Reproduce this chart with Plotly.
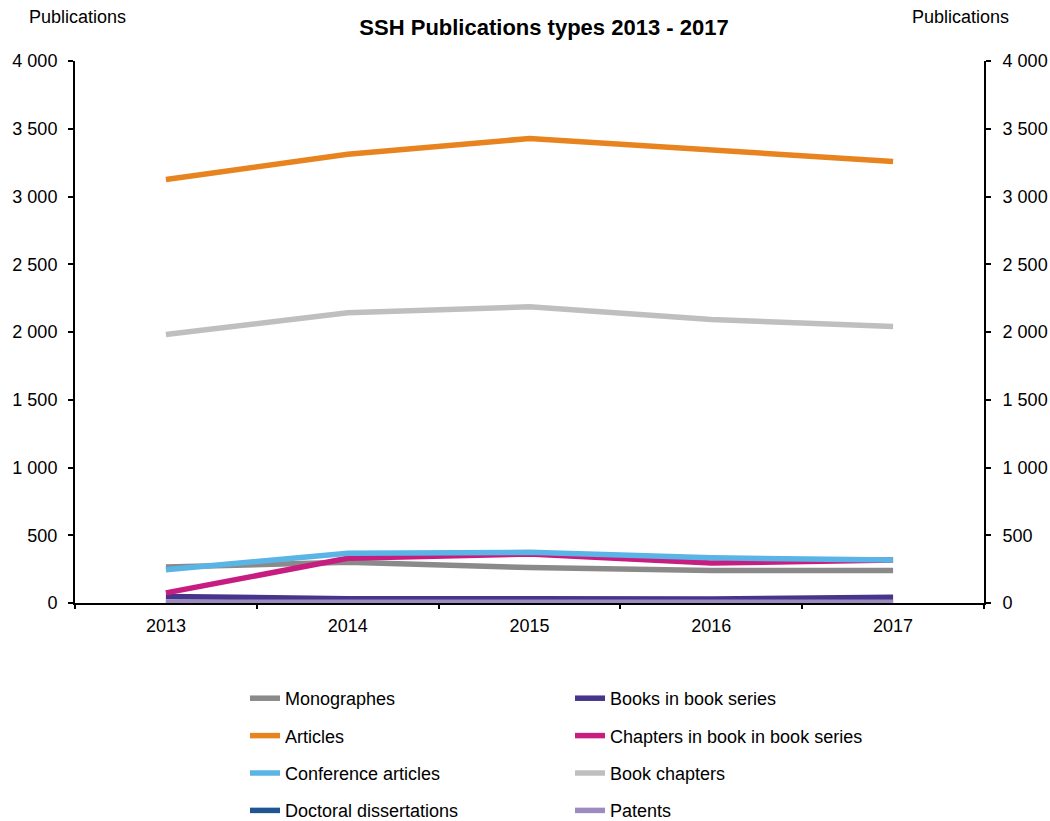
import plotly.graph_objects as go

years = ["2013", "2014", "2015", "2016", "2017"]
monographes = [265, 300, 262, 240, 240]
books_series = [48, 32, 32, 30, 42]
articles = [3125, 3312, 3428, 3342, 3258]
chapters_series = [75, 330, 362, 295, 318]
conference = [245, 367, 374, 334, 317]
book_chapters = [1982, 2142, 2186, 2092, 2040]
doctoral = [3, 3, 3, 3, 3]
patents = [5, 5, 5, 5, 5]

left_col = [
    ("Monographes", monographes, "#8a8a8a"),
    ("Articles", articles, "#e8841f"),
    ("Conference articles", conference, "#5ab4e6"),
    ("Doctoral dissertations", doctoral, "#1f5592"),
]
right_col = [
    ("Books in book series", books_series, "#46358b"),
    ("Chapters in book in book series", chapters_series, "#c71d81"),
    ("Book chapters", book_chapters, "#bfbfbf"),
    ("Patents", patents, "#9d8bc0"),
]
left_names = [n for n, _, _ in left_col]

fig = go.Figure()
order = [left_col[0], right_col[0], left_col[1], right_col[1],
         left_col[2], right_col[2], left_col[3], right_col[3]]
for name, vals, col in order:
    leg = "legend" if name in left_names else "legend2"
    fig.add_trace(go.Scatter(
        x=years, y=vals, name=name, mode="lines",
        line=dict(color=col, width=5.5),
        legend=leg, legendgroup=name,
    ))

font_family = "Liberation Sans, Arial, sans-serif"
tick_vals = list(range(0, 4001, 500))
W, H = 1050, 821
L, R, T, B = 75, 66, 61, 218
PW, PH = W - L - R, H - T - B

def px_x(p):
    return (p - L) / PW

def px_y(p):
    return (H - B - p) / PH

axis_common = dict(
    ticks="outside", tickwidth=1.5, tickcolor="black",
    showline=True, linecolor="black", linewidth=2,
    showgrid=False, zeroline=False, tickfont=dict(size=18),
)

fig.update_layout(
    width=W, height=H,
    margin=dict(l=L, r=R, t=T, b=B, autoexpand=False),
    paper_bgcolor="white", plot_bgcolor="white",
    font=dict(family=font_family, size=18, color="black"),
    separators=", ",
    showlegend=True,
    xaxis=dict(
        type="category", range=[-0.5, 4.5], tickson="boundaries",
        ticklen=4, ticklabelstandoff=5, **axis_common,
    ),
    yaxis=dict(
        range=[0, 4000], tickvals=tick_vals, tickformat=",d",
        ticklen=5, ticklabelstandoff=7, **axis_common,
    ),
    yaxis2=dict(
        range=[0, 4000], tickvals=tick_vals, tickformat=",d",
        overlaying="y", side="right", ticklen=5, ticklabelstandoff=8,
        **axis_common,
    ),
    legend=dict(
        x=px_x(245), y=px_y(680), xanchor="left", yanchor="top",
        orientation="v", tracegroupgap=11,
        font=dict(size=18), bgcolor="rgba(0,0,0,0)",
    ),
    legend2=dict(
        x=px_x(570), y=px_y(680), xanchor="left", yanchor="top",
        orientation="v", tracegroupgap=11,
        font=dict(size=18), bgcolor="rgba(0,0,0,0)",
    ),
    title=dict(
        text="<b>SSH Publications types 2013 - 2017</b>",
        x=544 / W, xanchor="center", y=1 - 27 / H, yanchor="middle",
        font=dict(size=22),
    ),
    annotations=[
        dict(text="Publications", xref="paper", yref="paper",
             x=px_x(77), y=px_y(17), xanchor="center", yanchor="middle",
             showarrow=False, font=dict(size=18)),
        dict(text="Publications", xref="paper", yref="paper",
             x=px_x(960), y=px_y(17), xanchor="center", yanchor="middle",
             showarrow=False, font=dict(size=18)),
    ],
)
# dummy trace so the right-hand axis is rendered
fig.add_trace(go.Scatter(x=years, y=[None] * 5, yaxis="y2", showlegend=False, hoverinfo="skip"))

fig.write_html(
    "out.html",
    config={"displayModeBar": False},
    post_script="document.body.style.margin='0';document.body.style.overflow='hidden';",
)
